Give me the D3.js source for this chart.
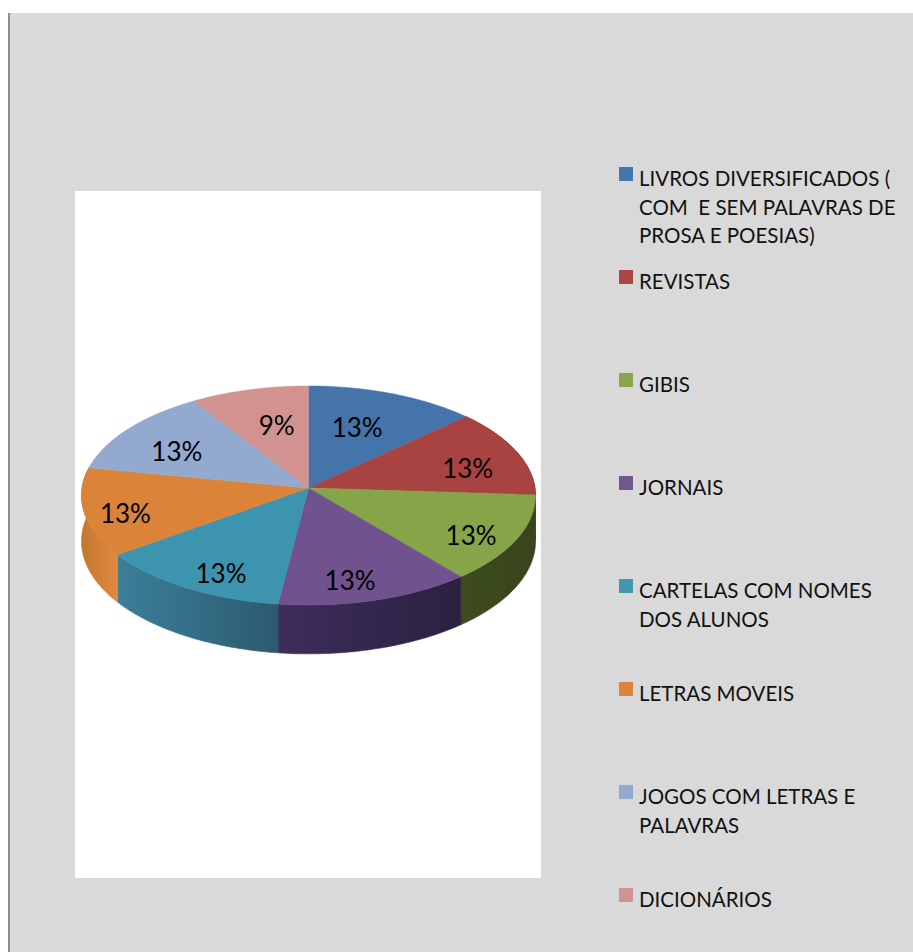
<!DOCTYPE html>
<html lang="pt">
<head>
<meta charset="utf-8">
<title>Materiais de leitura</title>
<script src="https://cdn.jsdelivr.net/npm/d3@7"></script>
<style>
  html, body { margin: 0; padding: 0; background: #fff; }
  svg { display: block; }
  text { font-family: Lato, "Open Sans", sans-serif; fill: #111; white-space: pre; }
  text.value { fill: #000; }
</style>
</head>
<body>
<svg id="chart" width="913" height="952"></svg>
<script>
// Chart data
const categories = [
  "LIVROS DIVERSIFICADOS ( COM  E SEM PALAVRAS DE PROSA E POESIAS)",
  "REVISTAS",
  "GIBIS",
  "JORNAIS",
  "CARTELAS COM NOMES DOS ALUNOS",
  "LETRAS MOVEIS",
  "JOGOS COM LETRAS E PALAVRAS",
  "DICIONÁRIOS"
];
const percentages = [13, 13, 13, 13, 13, 13, 13, 9];

// Legend wrapping: the words at which each entry starts a new line
const legendBreaks = [["COM  E", "PROSA"], [], [], [], ["DOS ALUNOS"], [], ["PALAVRAS"], []];

// Palette
const topColors = ["#4474aa", "#a94341", "#86a548", "#70528f", "#3d94ae", "#dc833a", "#93a9cf", "#d19290"];
const legendColors = ["#4576ae", "#aa4643", "#89a54e", "#71588f", "#4198af", "#db843d", "#93a9cf", "#d19392"];
const wallNear = ["#2b4466", "#642826", "#3d4b1f", "#3e2d5c", "#3b7f99", "#c3772f", "#566583", "#7d5756"];
const wallFar = ["#2b4466", "#642826", "#38451c", "#2a2140", "#2c5a70", "#e08a3e", "#566583", "#7d5756"];

// Label placement: fraction of the radius along each slice's middle, then a nudge in pixels
const labelReach = [0.56, 0.76, 0.8, 0.66, 0.75, 0.84, 0.7, 0.52];
const labelNudgeX = [0, 0, -3, -2, 3, 5, -4, 0];
const labelNudgeY = [-6, 8, 7, 20, 12, 5, 5, -10];

const svg = d3.select("#chart");
const defs = svg.append("defs");

// Page panel
svg.append("rect").attr("x", 8).attr("y", 13).attr("width", 905).attr("height", 939).attr("fill", "#d9d9d9");
svg.append("rect").attr("x", 8).attr("y", 13).attr("width", 2).attr("height", 939).attr("fill", "#8e8e8e");
svg.append("rect").attr("x", 75).attr("y", 191).attr("width", 466).attr("height", 687).attr("fill", "#fff");

// Slight softening of the pie body
defs.append("filter").attr("id", "soft")
  .attr("x", "-5%").attr("y", "-5%").attr("width", "110%").attr("height", "110%")
  .attr("color-interpolation-filters", "sRGB")
  .append("feGaussianBlur").attr("stdDeviation", 0.7);

// Tilted-disc projection with perspective
const cx = 308.5, cy = 488, rx = 226.5, ry = 109, persp = 0.0685, depth = 45.5;
function project(angle, reach, drop) {
  const s = Math.sin(angle) * reach, c = Math.cos(angle) * reach;
  const k = 1 + persp * c;
  return [cx + rx * s / k, cy - ry * c / k + drop / k];
}

const slices = d3.pie().sort(null).value(d => d).startAngle(0).endAngle(2 * Math.PI)(percentages);
const line = d3.line();
const sweep = d => d3.range(d.startAngle, d.endAngle, Math.PI / 180).concat([d.endAngle]);

const pie = svg.append("g").attr("filter", "url(#soft)");

// Side walls: only the near half of the disc can be seen
const front = slices.filter(d => d.endAngle > Math.PI / 2 && d.startAngle < 3 * Math.PI / 2);
front.forEach(d => {
  const id = "wall-" + d.index;
  const rim = sweep(d);
  const xs = rim.map(a => project(a, 1, 0)[0]);
  const grad = defs.append("linearGradient").attr("id", id)
    .attr("gradientUnits", "userSpaceOnUse")
    .attr("x1", d3.min(xs)).attr("x2", d3.max(xs)).attr("y1", 0).attr("y2", 0);
  grad.append("stop").attr("offset", 0).attr("stop-color", wallNear[d.index]);
  grad.append("stop").attr("offset", 1).attr("stop-color", wallFar[d.index]);
  const outline = rim.map(a => project(a, 1, 0)).concat(rim.slice().reverse().map(a => project(a, 1, depth)));
  pie.append("path").attr("d", line(outline) + "Z").attr("fill", `url(#${id})`)
    .attr("stroke", `url(#${id})`).attr("stroke-width", 0.6);
});

// Top faces
pie.selectAll("path.top").data(slices).join("path")
  .attr("class", "top")
  .attr("d", d => line([project(0, 0, 0)].concat(sweep(d).map(a => project(a, 1, 0)))) + "Z")
  .attr("fill", d => topColors[d.index])
  .attr("stroke", d => topColors[d.index])
  .attr("stroke-width", 0.5);

// Value labels
svg.append("g").selectAll("text.value").data(slices).join("text")
  .attr("class", "value")
  .attr("transform", d => {
    const [x, y] = project((d.startAngle + d.endAngle) / 2, labelReach[d.index], 0);
    return `translate(${x + labelNudgeX[d.index]},${y + labelNudgeY[d.index]})`;
  })
  .attr("text-anchor", "middle")
  .attr("dy", "0.36em")
  .attr("font-size", 26)
  .text(d => d.value + "%");

// Legend
const rowY = d3.scalePoint().domain(d3.range(categories.length)).range([167, 888]);
const lineStep = 28.7;
const legend = svg.append("g");
categories.forEach((name, i) => {
  const top = rowY(i);
  legend.append("rect").attr("x", 619).attr("y", top).attr("width", 14).attr("height", 14).attr("fill", legendColors[i]);
  let lines = [name];
  legendBreaks[i].forEach(word => {
    const last = lines.pop();
    const at = last.indexOf(word);
    lines.push(last.slice(0, at).trimEnd(), last.slice(at));
  });
  const label = legend.append("text").attr("x", 639).attr("y", top + 19).attr("font-size", 20.5);
  lines.forEach((t, j) => label.append("tspan").attr("x", 639).attr("y", top + 19 + j * lineStep).text(t));
});
</script>
</body>
</html>
